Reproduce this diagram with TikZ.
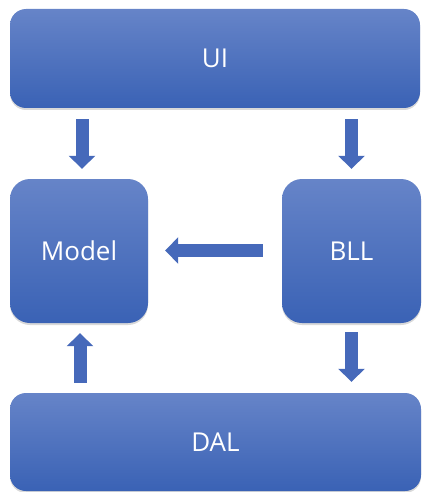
\documentclass[tikz,border=0pt]{standalone}
\usepackage{fontspec}
\setmainfont{Open Sans}
\usetikzlibrary{arrows.meta,shadows,calc}
\definecolor{boxtop}{HTML}{6684C8}
\definecolor{boxbot}{HTML}{3A62B5}
\definecolor{arrowc}{HTML}{4669BA}
\begin{document}
\begin{tikzpicture}[x=1pt,y=-1pt,
  box/.style={rounded corners=16pt, top color=boxtop, bottom color=boxbot, draw=none,
    text=white, font=\fontsize{26}{30}\selectfont, inner sep=0pt,
    drop shadow={shadow xshift=0pt,shadow yshift=-2pt,opacity=0.3}},
  sqbox/.style={box, rounded corners=20pt},
  fat/.style={line width=13pt, draw=arrowc, -{Triangle[width=26pt,length=13pt]}}]
\useasboundingbox (0,0) rectangle (423,492);
\node[box, minimum width=410pt, minimum height=99pt] (ui) at (215,58.5) {UI};
\node[sqbox, minimum width=138pt, minimum height=144pt] (model) at (79,251) {Model};
\node[sqbox, minimum width=139pt, minimum height=144pt] (bll) at (351.5,251) {BLL};
\node[box, minimum width=411pt, minimum height=98pt] (dal) at (215.5,442) {DAL};
\draw[fat] ($(ui.south -| model.center)+(3,11)$) -- ($(model.north)+(3,-10)$);
\draw[fat] ($(ui.south -| bll.center)+(0,11)$) -- ($(bll.north)+(0,-10)$);
\draw[fat] ($(bll.west)+(-19,-0.5)$) -- ($(model.east)+(17,-0.5)$);
\draw[fat] ($(dal.north -| model.center)+(1,-10)$) -- ($(model.south)+(1,10)$);
\draw[fat] ($(bll.south)+(0,9)$) -- ($(dal.north -| bll.center)+(0,-11)$);
\end{tikzpicture}
\end{document}
